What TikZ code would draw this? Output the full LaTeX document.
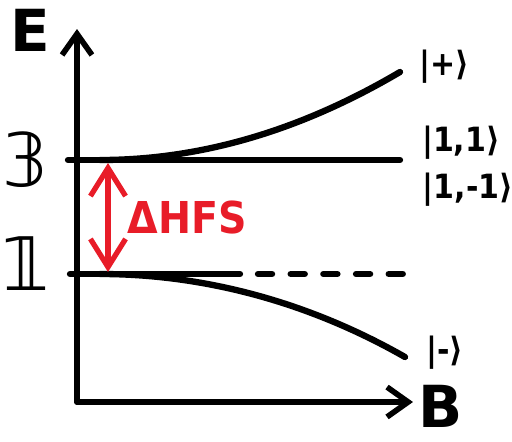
\documentclass[tikz,border=0pt]{standalone}
\usepackage{fontspec}
\setmainfont{DejaVu Sans}
\newfontfamily\condfont{DejaVu Sans Condensed}
\usetikzlibrary{arrows.meta}

\definecolor{gapred}{RGB}{232,28,40}
\tikzset{
  axis/.style={line width=3.2pt, ->},
  level/.style={line width=3.6pt},
  ket/.style={font=\condfont\bfseries\fontsize{19}{19}\selectfont, inner sep=0pt},
  big/.style={font=\bfseries\fontsize{33}{33}\selectfont, inner sep=0pt},
}

\begin{document}
\begin{tikzpicture}[x=0.02cm, y=-0.02cm, line cap=round,
  >={Straight Barb[length=12pt,width=17pt]}]
\useasboundingbox (0,0) rectangle (512,441);
% axes
\coordinate (O) at (77,402);
\coordinate (Etip) at (77,29);
\coordinate (Btip) at (413,402);
\draw[axis] (O) -- (Etip);
\draw[axis] (O) -- (Btip);
\node[big] (E) at (30,30) {E};
\node[big] (B) at (441,406) {B};
% levels
\coordinate (u0) at (68,160);
\coordinate (u1) at (400,160);
\coordinate (l0) at (70,274);
\coordinate (l1) at (240,274);
\coordinate (d0) at (258,274);
\coordinate (d1) at (408,274);
\draw[level] (u0) -- (u1);
\draw[level] (l0) -- (l1);
\draw[level, dash pattern=on 8pt off 10.6pt] (d0) -- (d1);
\draw[level] (100,160) .. controls (200,160) and (300,131) .. (400,72);
\draw[level] (100,274) .. controls (200,274) and (305,300) .. (405,357);
\node[big, font=\fontsize{42}{42}\selectfont] (n3) at (25,160) {𝟛};
\node[big, font=\fontsize{42}{42}\selectfont] (n1) at (26,264) {𝟙};
% state labels
\node[ket] (plus) at (444,67) {|+⟩};
\node[ket] (k11) at (461,143) {|1,1⟩};
\node[ket] (k1m) at (468,190) {|1,-1⟩};
\node[ket] (minus) at (445,353) {|-⟩};
% splitting
\coordinate (g0) at (108,163);
\coordinate (g1) at (108,272);
\draw[gapred, line width=3pt, {Straight Barb[length=16pt,width=20pt]}-{Straight Barb[length=16pt,width=20pt]}] (g0) -- (g1);
\node[big, gapred, font=\condfont\bfseries\fontsize{25}{25}\selectfont] (hfs) at (187,218) {ΔHFS};
\end{tikzpicture}
\end{document}
